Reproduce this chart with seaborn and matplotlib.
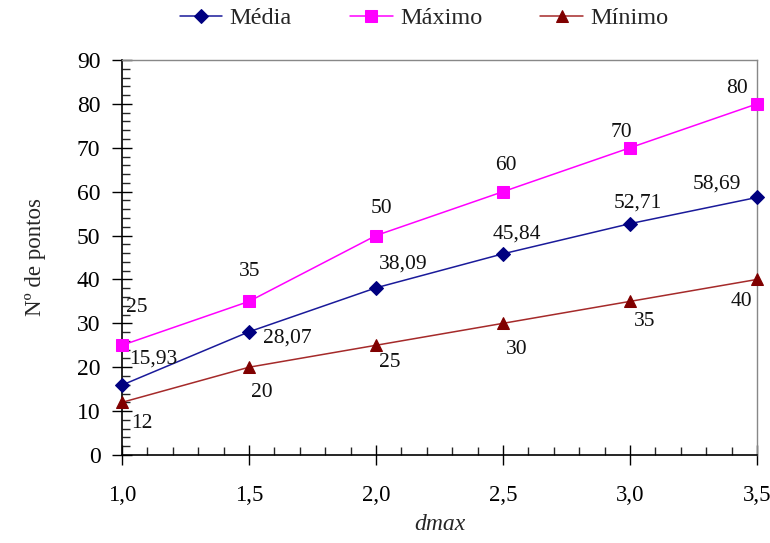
import matplotlib
matplotlib.use("Agg")
import matplotlib.pyplot as plt
import matplotlib.ticker as mticker
import seaborn as sns
import pandas as pd

dmax = [1.0, 1.5, 2.0, 2.5, 3.0, 3.5]
media = [15.93, 28.07, 38.09, 45.84, 52.71, 58.69]
maximo = [25, 35, 50, 60, 70, 80]
minimo = [12, 20, 25, 30, 35, 40]
media_labels = ["15,93", "28,07", "38,09", "45,84", "52,71", "58,69"]
maximo_labels = ["25", "35", "50", "60", "70", "80"]
minimo_labels = ["12", "20", "25", "30", "35", "40"]
x_ticks = [1.0, 1.5, 2.0, 2.5, 3.0, 3.5]
x_ticklabels = ["1,0", "1,5", "2,0", "2,5", "3,0", "3,5"]
y_ticks = [0, 10, 20, 30, 40, 50, 60, 70, 80, 90]

sns.set_style("ticks")
plt.rcParams['font.family'] = ['Liberation Serif', 'DejaVu Serif']

fig = plt.figure(figsize=(7.7, 5.43), dpi=100)
ax = fig.add_axes([122/770, 88/543, (757-122)/770, (455-60)/543])

series = [
    ("Média", media, media_labels, "#1a1a9a", "#000080", "D", 7,
     [(31, 26), (38, -6), (27, 24), (14, 20), (8, 21), (-40, 13)]),
    ("Máximo", maximo, maximo_labels, "#ff00ff", "#ff00ff", "s", 8,
     [(15, 38), (1, 30), (6, 27), (3, 26), (-9, 15), (-20, 15)]),
    ("Mínimo", minimo, minimo_labels, "#a52a2a", "#800000", "^", 8,
     [(20, -21), (13, -25), (14, -17), (14, -26), (15, -20), (-16, -22)]),
]

for name, vals, labs, lc, mc, mk, ms, offs in series:
    df = pd.DataFrame({"dmax": dmax, "v": vals})
    sns.lineplot(data=df, x="dmax", y="v", ax=ax, color=lc, marker=mk,
                 markersize=ms, markerfacecolor=mc, markeredgecolor=mc,
                 linewidth=1.1, label=name, clip_on=False, zorder=3)
    for xv, yv, t, (dx, dy) in zip(dmax, vals, labs, offs):
        ax.annotate(t, (xv, yv), xytext=(dx * 0.72, dy * 0.72),
                    textcoords="offset points", ha="center", va="center",
                    fontsize=15.5, color="#111111")

ax.set_xlim(1.0, 3.5)
ax.set_ylim(0, 90)
ax.set_xticks(x_ticks)
ax.set_xticklabels(x_ticklabels)
ax.set_yticks(y_ticks)
ax.xaxis.set_minor_locator(mticker.MultipleLocator(0.1))
ax.yaxis.set_minor_locator(mticker.MultipleLocator(2))
ax.tick_params(axis="both", which="major", direction="inout", length=15,
               width=1.0, labelsize=17, colors="black")
ax.tick_params(axis="x", which="major", pad=14, labelsize=16.5)
ax.tick_params(axis="y", which="major", pad=8)
ax.tick_params(axis="both", which="minor", direction="in", length=6, width=1.0)
ax.set_xlabel("dmax", fontsize=17, style="italic", labelpad=6)
ax.set_ylabel("Nº de pontos", fontsize=16.5, labelpad=22)

for s in ["left", "bottom"]:
    ax.spines[s].set_color("black")
    ax.spines[s].set_linewidth(1.2)
for s in ["top", "right"]:
    ax.spines[s].set_visible(True)
    ax.spines[s].set_color("#888888")
    ax.spines[s].set_linewidth(1.0)

ax.legend_.remove()
handles, labels = ax.get_legend_handles_labels()
fig.legend(handles, labels, loc="center", bbox_to_anchor=(424/770, 1 - 18/543),
           ncol=3, frameon=False, fontsize=17.5, columnspacing=2.4,
           handlelength=1.75, handletextpad=0.3)

fig.savefig("out.png", dpi=100)
